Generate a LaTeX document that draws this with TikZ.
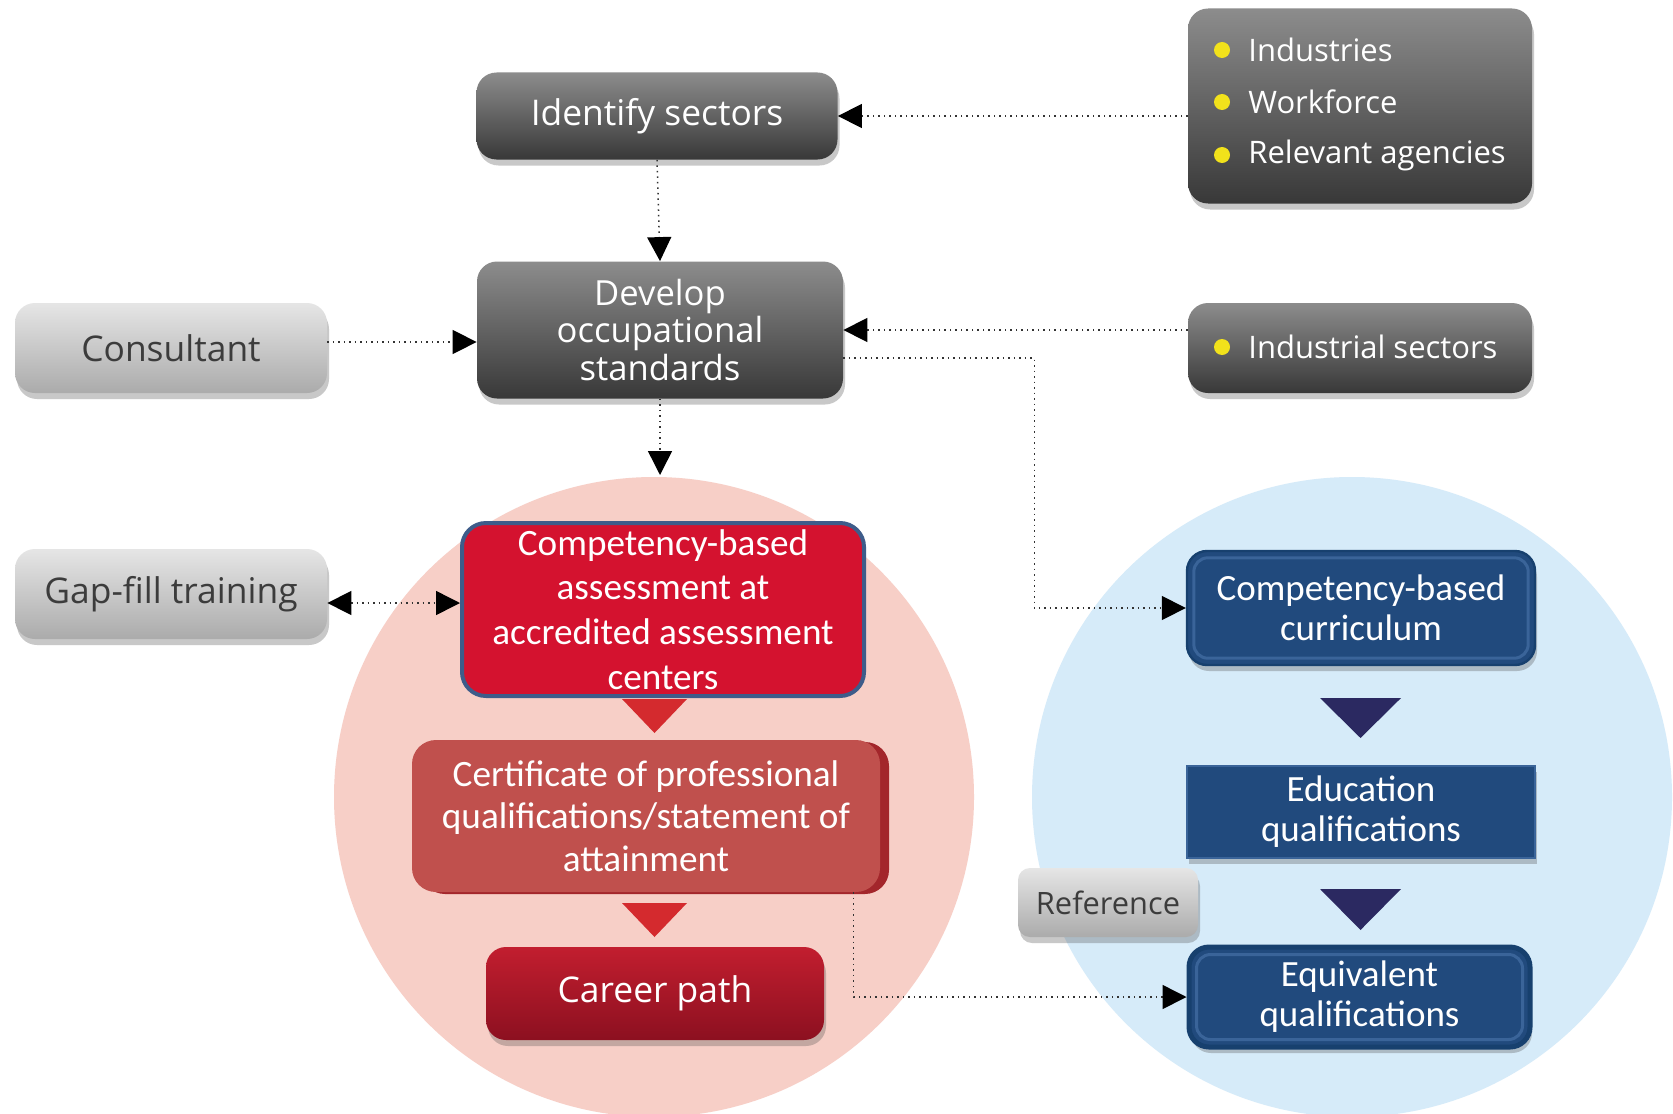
\documentclass[tikz,border=0pt]{standalone}
\usepackage{fontspec}
\setmainfont{Carlito}
\newfontfamily\boxfont{Open Sans}
\usetikzlibrary{arrows.meta,shadows,positioning}

\definecolor{pinkbg}{HTML}{F7CFC7}
\definecolor{bluebg}{HTML}{D6EBF9}
\definecolor{assessred}{HTML}{D4122F}
\definecolor{assessrim}{HTML}{3E5C8A}
\definecolor{certred}{HTML}{C0504D}
\definecolor{certside}{HTML}{A3262B}
\definecolor{careertop}{HTML}{C21E2F}
\definecolor{careerbot}{HTML}{8C1020}
\definecolor{navyfill}{HTML}{214A7D}
\definecolor{navyrim}{HTML}{3A6499}
\definecolor{navydark}{HTML}{17406E}
\definecolor{navytri}{HTML}{2B2961}
\definecolor{redtri}{HTML}{D42A2E}
\definecolor{dotyellow}{HTML}{F2E21B}
\definecolor{graytext}{HTML}{3C3C3C}

\tikzset{
  tip/.tip={Triangle[length=12pt,width=12pt,color=black]},
  conn/.style={draw=black!80,line width=0.75pt,dotted,-tip},
  conn2/.style={conn,tip-tip},
  shade/.style={drop shadow={shadow xshift=1pt,shadow yshift=-3pt,opacity=0.3,fill=black!70}},
  darkbox/.style={rounded corners=10pt,top color=black!45,bottom color=black!78,
    text=white,font=\boxfont\fontsize{17.7}{20}\selectfont,shade},
  lightbox/.style={rounded corners=10pt,top color=black!10,bottom color=black!33,
    text=graytext,font=\boxfont\fontsize{17.7}{20}\selectfont,shade},
  redbox/.style={rounded corners=12pt,align=center,text=white,
    font=\fontsize{18.6}{22.3}\selectfont},
  navybox/.style={rounded corners=10pt,fill=navyfill,draw=navydark,line width=1.2pt,
    align=center,text=white,font=\fontsize{18.5}{20}\selectfont,shade},
  inset/.style={draw=navyrim,line width=1.5pt,rounded corners=7pt},
  bullet/.style={circle,fill=dotyellow,inner sep=0pt,minimum size=8pt},
  bultext/.style={anchor=west,text=white,font=\boxfont\fontsize{15.5}{18}\selectfont,inner sep=0pt},
}

\begin{document}
\begin{tikzpicture}[x=0.5pt,y=-0.5pt]
  \useasboundingbox[fill=white] (0,0) rectangle (1673,1113);

  % background circles
  \fill[pinkbg] (654,797) circle[radius=160pt];
  \fill[bluebg] (1352,797) circle[radius=160pt];

  % top row
  \node[darkbox,minimum width=180.5pt,minimum height=43.5pt] (ident) at (657,116) {Identify sectors};
  \node[darkbox,minimum width=183pt,minimum height=68.5pt,align=center,
        font=\boxfont\fontsize{17.3}{18.8}\selectfont] (develop) at (660,330) {Develop\\occupational\\standards};
  \node[darkbox,minimum width=172pt,minimum height=97.5pt] (info) at (1360,106) {};
  \node[bullet] (b1) at (1222,50) {};
  \node[bullet] (b2) at (1222,102) {};
  \node[bullet] (b3) at (1222,155) {};
  \node[bultext] (t1) at (1248,50) {Industries};
  \node[bultext] (t2) at (1248,102) {Workforce};
  \node[bultext] (t3) at (1248,155) {Relevant agencies};
  \node[darkbox,minimum width=172pt,minimum height=45pt] (indsec) at (1360,348) {};
  \node[bullet] (b4) at (1222,347) {};
  \node[bultext] (t4) at (1248,347) {Industrial sectors};

  \node[lightbox,minimum width=156pt,minimum height=45pt] (consult) at (171,348) {Consultant};
  \node[lightbox,minimum width=156pt,minimum height=45pt] (gapfill) at (171,594) {Gap-fill training};

  % red column
  \node[redbox,fill=assessred,draw=assessrim,line width=2pt,minimum width=201pt,
        minimum height=86.5pt,inner ysep=1pt] (assess) at (663,609.5)
        {Competency-based\\assessment at\\accredited assessment\\centers};
  \node[redbox,fill=certred,minimum width=234pt,minimum height=76pt,inner ysep=1pt,
        font=\fontsize{18.6}{21.3}\selectfont,
        drop shadow={shadow xshift=4.5pt,shadow yshift=-1pt,opacity=1,fill=certside}] (cert) at (646,816)
        {Certificate of professional\\qualifications/statement of\\attainment};
  \node[redbox,rounded corners=10pt,top color=careertop,bottom color=careerbot,
        minimum width=169pt,minimum height=46.5pt,shade,
        font=\boxfont\fontsize{17.7}{20}\selectfont] (career) at (655,993.5) {Career path};
  \fill[redtri] (622,699) -- (687,699) -- (654.5,733) -- cycle;
  \fill[redtri] (622,903) -- (687,903) -- (654.5,937) -- cycle;

  % blue column
  \node[navybox,minimum width=174pt,minimum height=57pt] (curric) at (1361,608) {Competency-based\\curriculum};
  \draw[inset] ([shift={(4pt,-4pt)}]curric.north west) rectangle ([shift={(-4pt,4pt)}]curric.south east);
  \node[navybox,rounded corners=0pt,draw=navyrim,minimum width=174pt,minimum height=46pt] (educ) at (1361,812) {Education\\qualifications};
  \node[navybox,line width=2.5pt,minimum width=170.5pt,minimum height=50pt] (equiv) at (1359.5,997) {Equivalent\\qualifications};
  \draw[inset] ([shift={(5pt,-5pt)}]equiv.north west) rectangle ([shift={(-5pt,5pt)}]equiv.south east);
  \fill[navytri] (1320,698) -- (1401,698) -- (1360.5,738) -- cycle;
  \fill[navytri] (1320,889) -- (1401,889) -- (1360.5,930) -- cycle;
  \node[lightbox,rounded corners=6pt,minimum width=90pt,minimum height=34.5pt,
        font=\boxfont\fontsize{15.4}{17}\selectfont] (refer) at (1108,902.5) {Reference};

  % connectors
  \coordinate (down) at (660,475);
  \draw[conn] (info.west |- ident.east) -- (ident.east);
  \draw[conn] (ident.south) -- (develop.north);
  \draw[conn] (indsec.west |- develop.east) -- (develop.east);
  \draw[conn] ([yshift=3pt]consult.east) -- ([yshift=3pt]consult.east -| develop.west);
  \draw[conn] (develop.south) -- (down);
  \draw[conn2] ([yshift=-4.5pt]gapfill.east) -- ([yshift=-4.5pt]gapfill.east -| assess.west);
  \draw[conn] ([yshift=-14pt]develop.east) -- ++(95.5pt,0) |- (curric.west);
  \draw[conn] ([xshift=-13.5pt]cert.south east) |- (equiv.west);
\end{tikzpicture}
\end{document}
